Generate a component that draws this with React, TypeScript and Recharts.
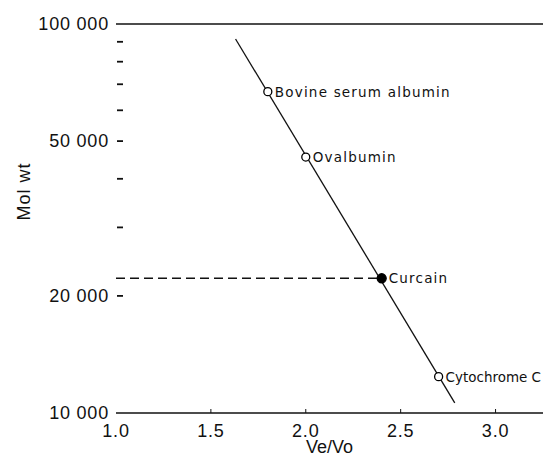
import { ScatterChart, Scatter, XAxis, YAxis, ReferenceLine } from "recharts";

// calibration proteins + the unknown (Curcain)
const names = ["Bovine serum albumin", "Ovalbumin", "Curcain", "Cytochrome C"];
const veVo = [1.8, 2.0, 2.4, 2.7];
const molWt = [67000, 45500, 22200, 12400];
const unknown = [false, false, true, false];

// ends of the fitted calibration line
const fitX = [1.63, 2.785];
const fitY = [91500, 10620];

const xTicks = [1.0, 1.5, 2.0, 2.5, 3.0];
const yTicks = [10000, 20000, 30000, 40000, 50000, 60000, 70000, 80000, 90000, 100000];
const yLabelled = [10000, 20000, 50000, 100000];

const data = names.map((name, i) => ({ name, x: veVo[i], y: molWt[i], unknown: unknown[i] }));

const W = 543;
const H = 462;
const axisFont = "'Liberation Sans', Arial, sans-serif";
const pointFont = "'DejaVu Sans', sans-serif";
const pointSize = 13.5;
const pointSpacing = 1.2;

const fmt = (v: number) => String(v).replace(/\B(?=(\d{3})+(?!\d))/g, " ");

const Point = (p: any) => {
  const { cx, cy, payload } = p;
  const tx = cx + 7;
  // rough width guess; squeeze the label if it would run off the right edge
  const guess = payload.name.length * (0.62 * pointSize + pointSpacing);
  const room = W - tx - 2;
  const squeeze = guess > room;
  return (
    <g>
      <circle
        cx={cx}
        cy={cy}
        r={payload.unknown ? 4.5 : 4}
        fill={payload.unknown ? "#000" : "#fff"}
        stroke="#000"
        strokeWidth={1.3}
      />
      <text
        x={tx}
        y={cy + 5}
        fontSize={pointSize}
        letterSpacing={squeeze ? 0 : pointSpacing}
        textLength={squeeze ? room : undefined}
        lengthAdjust={squeeze ? "spacingAndGlyphs" : undefined}
        fontFamily={pointFont}
        fill="#111"
      >
        {payload.name}
      </text>
    </g>
  );
};

const YTick = ({ x, y, payload }: any) => {
  const v = payload.value;
  return (
    <g>
      {v !== 10000 && v !== 100000 && <line x1={x + 1} x2={x + 7} y1={y} y2={y} stroke="#111" strokeWidth={1.8} />}
      {yLabelled.includes(v) && (
        <text x={x - 7} y={y + 6} textAnchor="end" fontSize={18} letterSpacing={0.8} fontFamily={axisFont} fill="#111">
          {fmt(v)}
        </text>
      )}
    </g>
  );
};

const XTick = ({ x, y, payload }: any) => {
  const v = payload.value;
  return (
    <g>
      {v > 1 && <line x1={x} x2={x} y1={y} y2={y - 4} stroke="#111" strokeWidth={1} />}
      <text x={x} y={y + 24} textAnchor="middle" fontSize={18} letterSpacing={0.8} fontFamily={axisFont} fill="#111">
        {v.toFixed(1)}
      </text>
    </g>
  );
};

export default function App() {
  return (
    <div style={{ position: "absolute", left: 0, top: 0, background: "#fff" }}>
      <ScatterChart width={W} height={H} margin={{ top: 24, right: 0, bottom: 0, left: 0 }}>
        <XAxis
          dataKey="x"
          type="number"
          domain={[1.0, 3.25]}
          ticks={xTicks}
          allowDataOverflow
          height={49}
          tickSize={0}
          tickMargin={0}
          tickLine={false}
          axisLine={{ stroke: "#111", strokeWidth: 1.6 }}
          tick={<XTick />}
          label={{ value: "Ve/Vo", position: "insideBottom", offset: 9, fontSize: 18, fontFamily: axisFont, fill: "#111" }}
        />
        <YAxis
          dataKey="y"
          type="number"
          scale="log"
          domain={[10000, 100000]}
          ticks={yTicks}
          allowDataOverflow
          width={116}
          tickSize={0}
          tickMargin={0}
          tickLine={false}
          axisLine={false}
          interval={0}
          tick={<YTick />}
          label={{
            content: ({ viewBox }: any) => {
              const cx = viewBox.x + 24;
              const cy = viewBox.y + viewBox.height / 2 - 27;
              return (
                <text
                  x={cx}
                  y={cy}
                  transform={`rotate(-90 ${cx} ${cy})`}
                  textAnchor="middle"
                  dominantBaseline="central"
                  fontSize={18}
                  letterSpacing={1}
                  fontFamily={axisFont}
                  fill="#111"
                >
                  Mol wt
                </text>
              );
            },
          }}
        />
        <ReferenceLine y={100000} stroke="#111" strokeWidth={1.6} />
        <ReferenceLine
          segment={[
            { x: fitX[0], y: fitY[0] },
            { x: fitX[1], y: fitY[1] },
          ]}
          stroke="#111"
          strokeWidth={1.3}
        />
        <ReferenceLine
          segment={[
            { x: 1.0, y: molWt[2] },
            { x: veVo[2], y: molWt[2] },
          ]}
          stroke="#111"
          strokeWidth={1.3}
          strokeDasharray="9 5"
        />
        <Scatter data={data} shape={<Point />} isAnimationActive={false} />
      </ScatterChart>
    </div>
  );
}
